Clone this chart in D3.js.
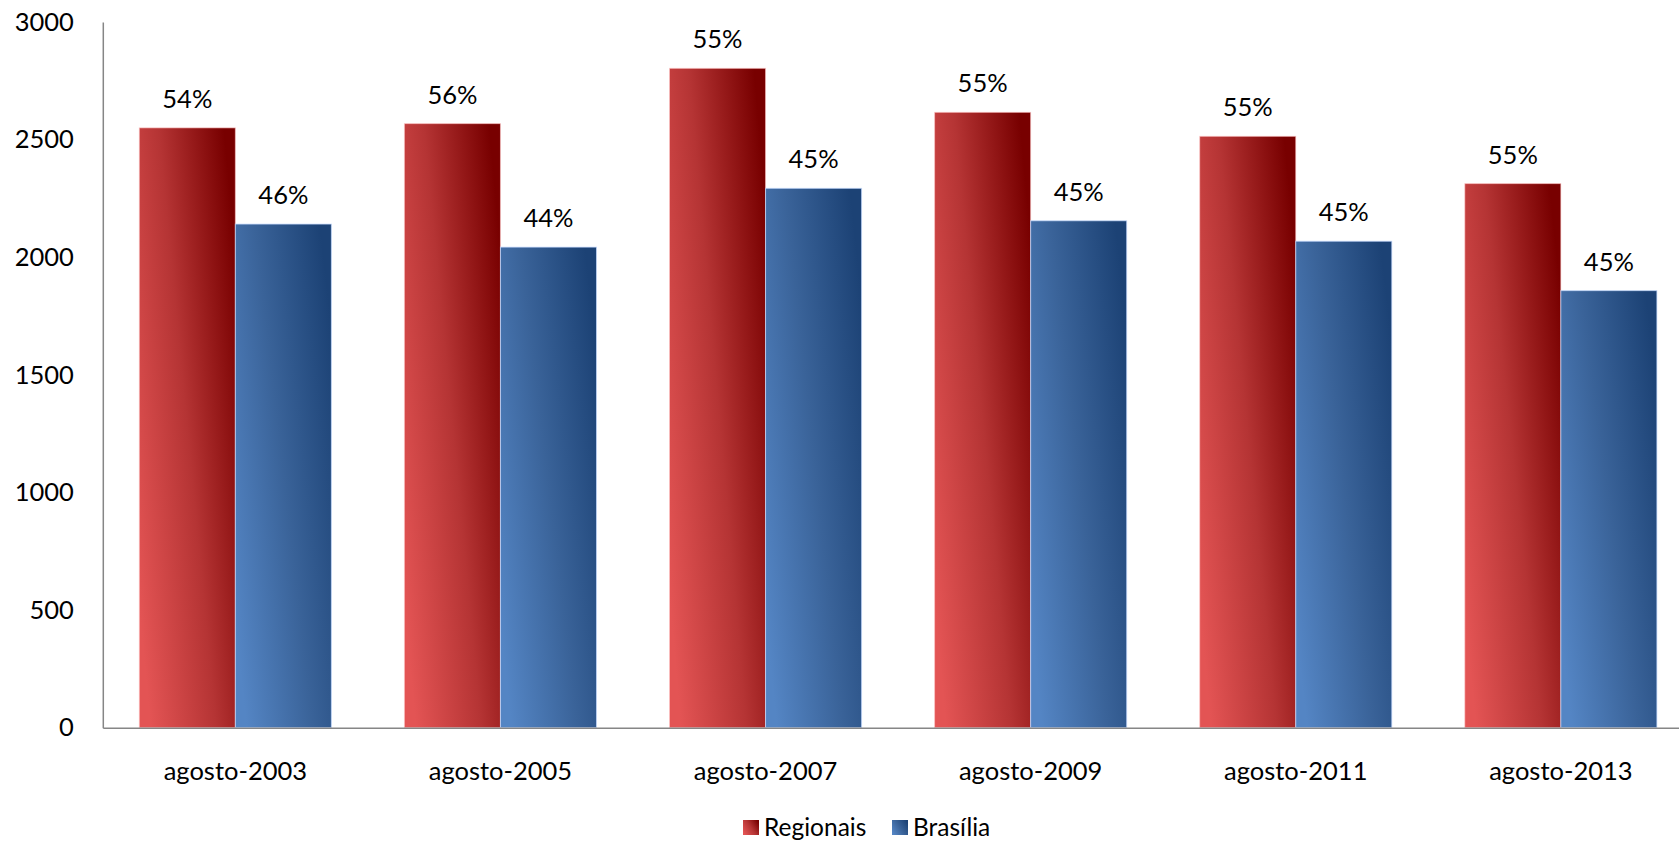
<!DOCTYPE html>
<html>
<head>
<meta charset="utf-8">
<script src="https://cdn.jsdelivr.net/npm/d3@7"></script>
<style>
  html, body { margin: 0; padding: 0; background: #fff; }
  svg { display: block; font-family: Lato, "Open Sans", sans-serif; }
</style>
</head>
<body>
<svg id="chart" width="1679" height="842"></svg>
<script>
const categories = ["agosto-2003", "agosto-2005", "agosto-2007", "agosto-2009", "agosto-2011", "agosto-2013"];
const seriesNames = ["Regionais", "Brasília"];
const regionais = [2550, 2568, 2803, 2616, 2514, 2313];
const brasilia = [2141, 2043, 2293, 2155, 2068, 1858];
const regionaisPct = ["54%", "56%", "55%", "55%", "55%", "55%"];
const brasiliaPct = ["46%", "44%", "45%", "45%", "45%", "45%"];
const yTicks = [0, 500, 1000, 1500, 2000, 2500, 3000];

(function () {
const svg = d3.select("#chart");
const mLeft = 102.8, mRight = 1693.4, mTop = 22, mBottom = 727.7;
const FONT = "Lato, 'Open Sans', sans-serif";

const x0 = d3.scaleBand().domain(categories).range([mLeft, mRight])
  .paddingInner(0.2754).paddingOuter(0.1377);
const x1 = d3.scaleBand().domain(seriesNames).range([0, x0.bandwidth()]).padding(0);
const y = d3.scaleLinear().domain([0, 3000]).range([mBottom, mTop]);

const defs = svg.append("defs");
const grads = [
  { id: "gRed", light: "#E35454", mid: "#B53434", dark: "#780000" },
  { id: "gBlue", light: "#5485C4", mid: "#3A6399", dark: "#1C4275" }
];
grads.forEach(g => {
  const lg = defs.append("linearGradient").attr("id", g.id)
    .attr("x1", 0).attr("y1", 0.8).attr("x2", 1).attr("y2", 0.2);
  lg.append("stop").attr("offset", "0%").attr("stop-color", g.light);
  lg.append("stop").attr("offset", "50%").attr("stop-color", g.mid);
  lg.append("stop").attr("offset", "100%").attr("stop-color", g.dark);
});

const data = categories.map((c, i) => ({
  cat: c,
  vals: [
    { s: seriesNames[0], v: regionais[i], p: regionaisPct[i], fill: "url(#gRed)", stroke: "rgba(255,200,200,0.6)" },
    { s: seriesNames[1], v: brasilia[i], p: brasiliaPct[i], fill: "url(#gBlue)", stroke: "rgba(200,220,255,0.7)" }
  ]
}));

const groups = svg.append("g").selectAll("g").data(data).join("g")
  .attr("transform", d => `translate(${x0(d.cat)},0)`);

groups.selectAll("rect").data(d => d.vals).join("rect")
  .attr("x", d => x1(d.s))
  .attr("y", d => y(d.v))
  .attr("width", x1.bandwidth())
  .attr("height", d => y(0) - y(d.v))
  .attr("fill", d => d.fill)
  .attr("stroke", d => d.stroke)
  .attr("stroke-width", 1);

groups.selectAll("text.pct").data(d => d.vals).join("text")
  .attr("class", "pct")
  .attr("x", d => x1(d.s) + x1.bandwidth() / 2)
  .attr("y", d => y(d.v) - 20)
  .attr("text-anchor", "middle")
  .attr("font-size", 25.5)
  .attr("fill", "#000")
  .text(d => d.p);

const yAxis = d3.axisLeft(y).tickValues(yTicks).tickFormat(d3.format("d")).tickSize(0).tickPadding(29);
const gy = svg.append("g").attr("transform", `translate(${mLeft},0)`).call(yAxis);
gy.select(".domain").attr("stroke", "#868686").attr("stroke-width", 1.5);
gy.selectAll("text").attr("font-size", 25.5).attr("font-family", FONT).attr("fill", "#000");

const xAxis = d3.axisBottom(x0).tickSize(0).tickPadding(34);
const gx = svg.append("g").attr("transform", `translate(0,${mBottom})`).call(xAxis);
gx.select(".domain").attr("stroke", "#868686").attr("stroke-width", 1.5);
gx.selectAll("text").attr("font-size", 25.5).attr("font-family", FONT).attr("fill", "#000");

const legend = svg.append("g").attr("transform", "translate(743,820)");
const legItems = [
  { name: seriesNames[0], fill: "url(#gRed)", x: 0 },
  { name: seriesNames[1], fill: "url(#gBlue)", x: 149 }
];
const li = legend.selectAll("g").data(legItems).join("g")
  .attr("transform", d => `translate(${d.x},0)`);
li.append("rect").attr("width", 16).attr("height", 15).attr("y", 0).attr("fill", d => d.fill);
li.append("text").attr("x", 21).attr("y", 15.5).attr("font-size", 24.5).attr("fill", "#000").text(d => d.name);
})();
</script>
</body>
</html>
